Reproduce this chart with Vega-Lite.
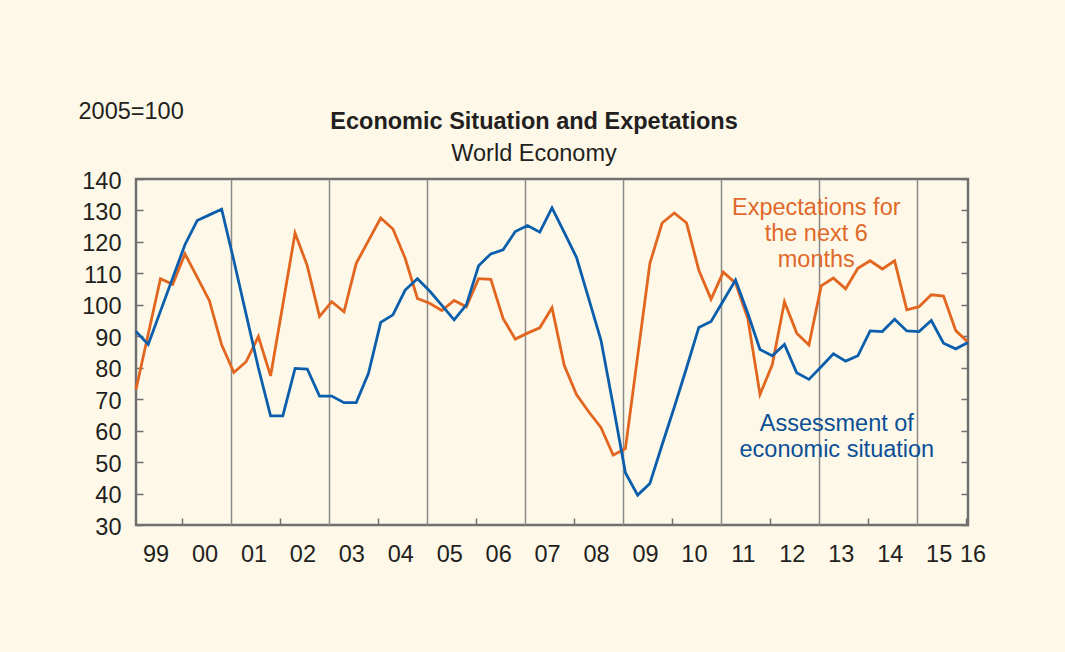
{
  "$schema": "https://vega.github.io/schema/vega-lite/v6.json",
  "width": 832,
  "height": 346,
  "autosize": {"type": "none"},
  "padding": {"left": 136, "top": 179, "right": 97, "bottom": 127},
  "background": "#fdf8e8",
  "config": {
    "view": {"stroke": "#707070", "strokeWidth": 2.5, "fill": "#fdf8e8"},
    "font": "Liberation Sans"
  },
  "title": {
    "text": "Economic Situation and Expetations",
    "subtitle": "World Economy",
    "fontSize": 23.5,
    "fontWeight": "bold",
    "subtitleFontSize": 23.5,
    "color": "#231f20",
    "subtitleColor": "#231f20",
    "font": "Liberation Sans",
    "subtitleFont": "Liberation Sans",
    "anchor": "middle",
    "dx": -18,
    "offset": -66,
    "subtitlePadding": 8
  },
  "data": {
    "values": [
      {"t": 1999.00, "assessment": 91.5, "expectations": 73.1},
      {"t": 1999.25, "assessment": 87.4, "expectations": 90.7},
      {"t": 1999.50, "assessment": 98.0, "expectations": 108.3},
      {"t": 1999.75, "assessment": 108.5, "expectations": 106.5},
      {"t": 2000.00, "assessment": 119.1, "expectations": 116.2},
      {"t": 2000.25, "assessment": 126.8, "expectations": 108.8},
      {"t": 2000.50, "assessment": 128.6, "expectations": 101.3},
      {"t": 2000.75, "assessment": 130.4, "expectations": 87.3},
      {"t": 2001.00, "assessment": 114.0, "expectations": 78.5},
      {"t": 2001.25, "assessment": 97.0, "expectations": 81.9},
      {"t": 2001.50, "assessment": 80.0, "expectations": 89.9},
      {"t": 2001.75, "assessment": 64.7, "expectations": 77.4},
      {"t": 2002.00, "assessment": 64.7, "expectations": 100.0},
      {"t": 2002.25, "assessment": 79.8, "expectations": 122.8},
      {"t": 2002.50, "assessment": 79.6, "expectations": 112.4},
      {"t": 2002.75, "assessment": 71.0, "expectations": 96.3},
      {"t": 2003.00, "assessment": 71.0, "expectations": 101.0},
      {"t": 2003.25, "assessment": 68.9, "expectations": 97.8},
      {"t": 2003.50, "assessment": 68.9, "expectations": 113.2},
      {"t": 2003.75, "assessment": 78.2, "expectations": 120.4},
      {"t": 2004.00, "assessment": 94.4, "expectations": 127.6},
      {"t": 2004.25, "assessment": 96.8, "expectations": 124.1},
      {"t": 2004.50, "assessment": 104.7, "expectations": 114.8},
      {"t": 2004.75, "assessment": 108.3, "expectations": 102.0},
      {"t": 2005.00, "assessment": 104.4, "expectations": 100.5},
      {"t": 2005.25, "assessment": 99.8, "expectations": 98.2},
      {"t": 2005.50, "assessment": 95.2, "expectations": 101.4},
      {"t": 2005.75, "assessment": 100.0, "expectations": 99.4},
      {"t": 2006.00, "assessment": 112.4, "expectations": 108.3},
      {"t": 2006.25, "assessment": 116.2, "expectations": 108.1},
      {"t": 2006.50, "assessment": 117.5, "expectations": 95.7},
      {"t": 2006.75, "assessment": 123.3, "expectations": 89.1},
      {"t": 2007.00, "assessment": 125.2, "expectations": 91.0},
      {"t": 2007.25, "assessment": 123.1, "expectations": 92.7},
      {"t": 2007.50, "assessment": 130.8, "expectations": 99.1},
      {"t": 2007.75, "assessment": 123.0, "expectations": 80.8},
      {"t": 2008.00, "assessment": 115.1, "expectations": 71.5},
      {"t": 2008.25, "assessment": 102.0, "expectations": 66.0},
      {"t": 2008.50, "assessment": 88.8, "expectations": 61.0},
      {"t": 2008.75, "assessment": 68.0, "expectations": 52.2},
      {"t": 2009.00, "assessment": 46.6, "expectations": 54.3},
      {"t": 2009.25, "assessment": 39.5, "expectations": 83.7},
      {"t": 2009.50, "assessment": 43.2, "expectations": 113.2},
      {"t": 2009.75, "assessment": 55.5, "expectations": 126.0},
      {"t": 2010.00, "assessment": 67.5, "expectations": 129.2},
      {"t": 2010.25, "assessment": 80.0, "expectations": 126.0},
      {"t": 2010.50, "assessment": 92.8, "expectations": 111.0},
      {"t": 2010.75, "assessment": 94.7, "expectations": 101.8},
      {"t": 2011.00, "assessment": 101.3, "expectations": 110.4},
      {"t": 2011.25, "assessment": 107.9, "expectations": 106.9},
      {"t": 2011.50, "assessment": 97.3, "expectations": 95.7},
      {"t": 2011.75, "assessment": 85.8, "expectations": 71.5},
      {"t": 2012.00, "assessment": 83.8, "expectations": 80.9},
      {"t": 2012.25, "assessment": 87.4, "expectations": 101.0},
      {"t": 2012.50, "assessment": 78.4, "expectations": 91.0},
      {"t": 2012.75, "assessment": 76.3, "expectations": 87.2},
      {"t": 2013.00, "assessment": 80.3, "expectations": 106.0},
      {"t": 2013.25, "assessment": 84.4, "expectations": 108.5},
      {"t": 2013.50, "assessment": 82.1, "expectations": 105.1},
      {"t": 2013.75, "assessment": 83.8, "expectations": 111.6},
      {"t": 2014.00, "assessment": 91.7, "expectations": 114.0},
      {"t": 2014.25, "assessment": 91.5, "expectations": 111.4},
      {"t": 2014.50, "assessment": 95.4, "expectations": 114.0},
      {"t": 2014.75, "assessment": 91.7, "expectations": 98.4},
      {"t": 2015.00, "assessment": 91.5, "expectations": 99.4},
      {"t": 2015.25, "assessment": 95.0, "expectations": 103.2},
      {"t": 2015.50, "assessment": 87.8, "expectations": 102.8},
      {"t": 2015.75, "assessment": 86.0, "expectations": 91.8},
      {"t": 2016.00, "assessment": 88.0, "expectations": 88.1}
    ]
  },
  "layer": [
    {
      "mark": {"type": "line", "opacity": 0},
      "encoding": {
        "x": {
          "field": "t",
          "type": "quantitative",
          "axis": {
            "orient": "bottom",
            "title": null,
            "domain": false,
            "labels": false,
            "grid": false,
            "ticks": true,
            "tickSize": -7,
            "tickWidth": 1.5,
            "tickColor": "#707070",
            "values": [1999.95, 2001.95, 2003.95, 2005.95, 2007.95, 2009.95, 2011.95, 2013.95, 2015.95]
          }
        },
        "y": {"field": "assessment", "type": "quantitative", "axis": null}
      }
    },
    {
      "mark": {"type": "line", "color": "#e2661f", "strokeWidth": 2.8},
      "encoding": {
        "x": {
          "field": "t",
          "type": "quantitative",
          "scale": {"domain": [1999, 2016], "nice": false, "zero": false},
          "axis": {
            "orient": "bottom",
            "title": null,
            "domain": false,
            "grid": false,
            "ticks": false,
            "values": [1999.4, 2000.4, 2001.4, 2002.4, 2003.4, 2004.4, 2005.4, 2006.4, 2007.4, 2008.4, 2009.4, 2010.4, 2011.4, 2012.4, 2013.4, 2014.4, 2015.4, 2015.99],
            "labelExpr": "datum.value > 2015.9 ? '16' : substring(toString(floor(datum.value)), 2)",
            "labelFontSize": 23.5,
            "labelColor": "#231f20",
            "labelFont": "Liberation Sans",
            "labelPadding": 17,
            "labelOffset": {"condition": {"test": "datum.value > 2015.9", "value": 5}, "value": 0},
            "labelFlush": false,
            "labelOverlap": false
          }
        },
        "y": {
          "field": "expectations",
          "type": "quantitative",
          "scale": {"domain": [30, 140], "nice": false, "zero": false},
          "axis": {
            "orient": "left",
            "values": [30, 40, 50, 60, 70, 80, 90, 100, 110, 120, 130, 140],
            "domain": false,
            "grid": false,
            "tickSize": -7,
            "tickWidth": 1.5,
            "tickColor": "#707070",
            "labelFontSize": 23.5,
            "labelColor": "#231f20",
            "labelFont": "Liberation Sans",
            "labelPadding": 22,
            "labelOffset": 2,
            "labelFlush": false,
            "labelOverlap": false,
            "title": "2005=100",
            "titleAngle": 0,
            "titleX": -58,
            "titleY": -68,
            "titleAlign": "left",
            "titleBaseline": "middle",
            "titleFontSize": 23.5,
            "titleFontWeight": "normal",
            "titleFont": "Liberation Sans",
            "titleColor": "#231f20"
          }
        }
      }
    },
    {
      "mark": {"type": "line", "color": "#0a5eab", "strokeWidth": 2.8},
      "encoding": {
        "x": {
          "field": "t",
          "type": "quantitative",
          "axis": {
            "orient": "top",
            "title": null,
            "domain": false,
            "labels": false,
            "ticks": false,
            "grid": true,
            "gridColor": "#8a8a8a",
            "gridWidth": 1.5,
            "values": [2000.95, 2002.95, 2004.95, 2006.95, 2008.95, 2010.95, 2012.95, 2014.95]
          }
        },
        "y": {
          "field": "assessment",
          "type": "quantitative",
          "scale": {"domain": [30, 140], "nice": false, "zero": false},
          "axis": {
            "orient": "right",
            "values": [30, 40, 50, 60, 70, 80, 90, 100, 110, 120, 130, 140],
            "domain": false,
            "grid": false,
            "labels": false,
            "title": null,
            "tickSize": -7,
            "tickWidth": 1.5,
            "tickColor": "#707070"
          }
        }
      }
    },
    {
      "data": {"values": [{"note": "expectations"}]},
      "mark": {
        "type": "text",
        "text": ["Expectations for", "the next 6", "months"],
        "font": "Liberation Sans",
        "fontSize": 23.5,
        "color": "#e0692a",
        "align": "center",
        "baseline": "middle",
        "lineHeight": 26
      },
      "encoding": {
        "x": {"datum": 2012.9, "type": "quantitative", "axis": null},
        "y": {"datum": 130.9, "type": "quantitative", "axis": null}
      }
    },
    {
      "data": {"values": [{"note": "assessment"}]},
      "mark": {
        "type": "text",
        "text": ["Assessment of", "economic situation"],
        "font": "Liberation Sans",
        "fontSize": 23.5,
        "color": "#0b4f96",
        "align": "center",
        "baseline": "middle",
        "lineHeight": 26
      },
      "encoding": {
        "x": {"datum": 2013.32, "type": "quantitative", "axis": null},
        "y": {"datum": 62.1, "type": "quantitative", "axis": null}
      }
    }
  ],
  "resolve": {"axis": {"x": "independent", "y": "independent"}}
}
